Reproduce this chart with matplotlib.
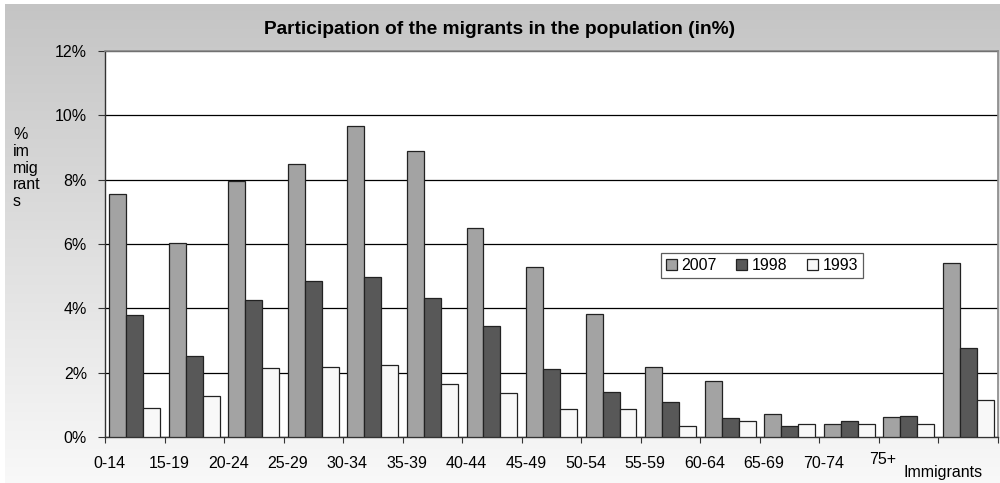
import numpy as np
import matplotlib
matplotlib.use("Agg")
import matplotlib.pyplot as plt
from matplotlib.patches import Patch
from matplotlib.transforms import blended_transform_factory

plt.rcParams['font.family'] = ['Liberation Sans', 'DejaVu Sans']

categories = ["0-14", "15-19", "20-24", "25-29", "30-34", "35-39", "40-44",
              "45-49", "50-54", "55-59", "60-64", "65-69", "70-74", "75+", "Immigrants"]
v2007 = [7.55, 6.04, 7.97, 8.49, 9.68, 8.90, 6.49, 5.29, 3.82, 2.17, 1.75, 0.70, 0.39, 0.61, 5.40]
v1998 = [3.79, 2.52, 4.26, 4.84, 4.96, 4.33, 3.44, 2.10, 1.41, 1.08, 0.58, 0.33, 0.51, 0.65, 2.77]
v1993 = [0.89, 1.28, 2.14, 2.17, 2.23, 1.64, 1.37, 0.87, 0.86, 0.35, 0.49, 0.39, 0.39, 0.39, 1.16]
series_names = ["2007", "1998", "1993"]
series_colors = ["#a3a3a3", "#585858", "#f8f8f8"]
yticks = [0, 2, 4, 6, 8, 10, 12]
ytick_labels = ["0%", "2%", "4%", "6%", "8%", "10%", "12%"]

fig = plt.figure(figsize=(10, 4.83), dpi=100)
fig.patch.set_facecolor("white")

# gradient background
bg = fig.add_axes([0.005, 0, 0.995, 1 - 4 / 483])
grad = np.linspace(0.77, 0.975, 256).reshape(-1, 1)
bg.imshow(np.dstack([grad, grad, grad]), aspect="auto", extent=[0, 1, 0, 1], origin="upper")
bg.set_axis_off()

ax = fig.add_axes([0.105, 46 / 483, 0.893, 386 / 483])
ax.set_facecolor("white")
x = np.arange(len(categories))
w = 0.285
for k, (vals, name, col) in enumerate(zip([v2007, v1998, v1993], series_names, series_colors)):
    ax.bar(x + (k - 1) * w, vals, width=w, color=col, edgecolor="#222222",
           linewidth=0.9, label=name, zorder=3)

ax.set_xlim(-0.5, len(categories) - 0.5)
ax.set_ylim(0, 12)
ax.set_yticks(yticks)
ax.set_yticklabels(ytick_labels, fontsize=11.5)
ax.yaxis.grid(True, color="black", linewidth=0.9, zorder=1)
ax.set_axisbelow(True)
ax.set_xticks(np.arange(-0.5, len(categories), 1.0))
ax.set_xticklabels([])
ax.tick_params(axis="x", length=4, width=0.8, color="#333333", direction="out")
ax.tick_params(axis="y", length=5, width=0.8, color="#333333", direction="out", pad=8)

for s in ["left", "bottom"]:
    ax.spines[s].set_color("#333333")
    ax.spines[s].set_linewidth(1.0)
for s in ["top", "right"]:
    ax.spines[s].set_color("#888888")
    ax.spines[s].set_linewidth(1.2)

trans = blended_transform_factory(ax.transData, fig.transFigure)
for i, lab in enumerate(categories):
    yy = 1 - 463 / 483
    if lab == "75+":
        yy = 1 - 459 / 483
    elif lab == "Immigrants":
        yy = 1 - 472 / 483
    ax.text(i - 0.43, yy, lab, transform=trans, ha="center", va="center", fontsize=11.5)

fig.text(0.5, 1 - 29 / 483, "Participation of the migrants in the population (in%)",
         ha="center", va="center", fontsize=13.8, fontweight="bold")
fig.text(0.013, 1 - 168 / 483, "%\nim\nmig\nrant\ns", ha="left", va="center",
         fontsize=11.5, linespacing=1.15)

handles = [Patch(facecolor=c, edgecolor="#222222", linewidth=0.9) for c in series_colors]
leg = ax.legend(handles, series_names, loc="lower left",
                bbox_to_anchor=(0.6226, 0.412, 0.2264, 0.08), mode="expand",
                ncol=3, fontsize=11.5, frameon=True, fancybox=False,
                handlelength=0.7, handleheight=0.7, handletextpad=0.3,
                columnspacing=0.6, borderpad=0.3, borderaxespad=0)
leg.get_frame().set_edgecolor("#333333")
leg.get_frame().set_linewidth(0.9)
leg.get_frame().set_facecolor("white")

fig.savefig("out.png", dpi=100)
